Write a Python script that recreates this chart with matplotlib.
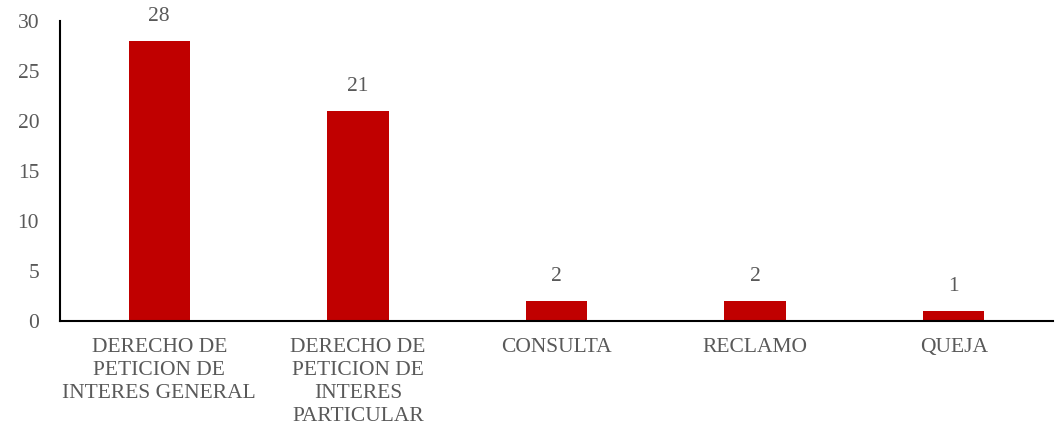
import matplotlib.pyplot as plt

# data
categorias = ['DERECHO DE\nPETICION DE\nINTERES GENERAL',
              'DERECHO DE\nPETICION DE\nINTERES\nPARTICULAR',
              'CONSULTA', 'RECLAMO', 'QUEJA']
cantidad = [28, 21, 2, 2, 1]
y_ticks = [0, 5, 10, 15, 20, 25, 30]

gris = '#595959'
plt.rcParams['font.family'] = ['Liberation Serif', 'DejaVu Serif']

fig = plt.figure(figsize=(10.63, 4.32), dpi=100)
ax = fig.add_axes([60 / 1063, 111 / 432, 993 / 1063, 300 / 432])

x = range(len(categorias))
bars = ax.bar(x, cantidad, width=0.31, color='#c00000')

for b, v in zip(bars, cantidad):
    ax.text(b.get_x() + b.get_width() / 2, v + 1.5, str(v),
            ha='center', va='bottom', fontsize=15.5, color=gris)

ax.set_xlim(-0.5, len(categorias) - 0.5)
ax.set_ylim(0, 30)
ax.set_yticks(y_ticks)
ax.set_xticks(list(x))
ax.set_xticklabels(categorias, linespacing=1.3)
ax.tick_params(axis='both', length=0, labelsize=15.5, labelcolor=gris)
ax.tick_params(axis='y', pad=15)
ax.tick_params(axis='x', pad=12)

for s in ['top', 'right']:
    ax.spines[s].set_visible(False)
for s in ['left', 'bottom']:
    ax.spines[s].set_color('black')
    ax.spines[s].set_linewidth(1.5)

fig.savefig('out.png', dpi=100)
